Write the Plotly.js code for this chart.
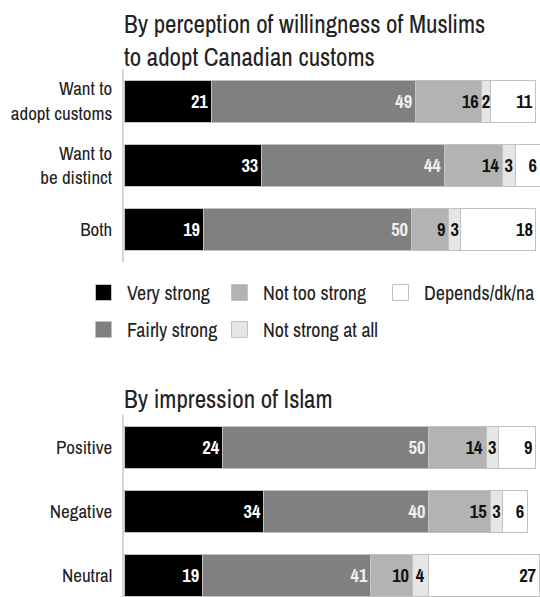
<!DOCTYPE html>
<html>
<head>
<meta charset="utf-8">
<script src="https://cdn.plot.ly/plotly-3.0.1.min.js"></script>
<style>
  html, body { margin: 0; padding: 0; background: #ffffff; }
  #chart { width: 540px; height: 597px; }
</style>
</head>
<body>
<div id="chart"></div>
<script>
// ---- Data ----
const seriesNames = ["Very strong", "Fairly strong", "Not too strong", "Not strong at all", "Depends/dk/na"];

const topTitle = "By perception of willingness of Muslims<br>to adopt Canadian customs";
const topCategories = ["Want to<br>adopt customs", "Want to<br>be distinct", "Both"];
const topVeryStrong = [21, 33, 19];
const topFairlyStrong = [49, 44, 50];
const topNotTooStrong = [16, 14, 9];
const topNotStrongAtAll = [2, 3, 3];
const topDepends = [11, 6, 18];

const bottomTitle = "By impression of Islam";
const bottomCategories = ["Positive", "Negative", "Neutral"];
const bottomVeryStrong = [24, 34, 19];
const bottomFairlyStrong = [50, 40, 41];
const bottomNotTooStrong = [14, 15, 10];
const bottomNotStrongAtAll = [3, 3, 4];
const bottomDepends = [9, 6, 27];

// ---- Styling ----
const FONT = "'Archivo Narrow', 'Roboto Condensed', 'Liberation Sans', sans-serif";
const colors = ["#000000", "#808080", "#b3b3b3", "#e6e6e6", "#ffffff"];
const textColors = ["#ffffff", "#f0f0f0", "#111111", "#111111", "#111111"];
const textAnchors = ["end", "end", "end", "middle", "end"];
const legendIds = ["legend", "legend", "legend2", "legend2", "legend3"];
const EDGE = "#c2c2c2";

const topSeries = [topVeryStrong, topFairlyStrong, topNotTooStrong, topNotStrongAtAll, topDepends];
const bottomSeries = [bottomVeryStrong, bottomFairlyStrong, bottomNotTooStrong, bottomNotStrongAtAll, bottomDepends];

const W = 540, H = 597;
const px = v => v / W;
const py = v => 1 - v / H;

function makeTrace(values, cats, i, xa, ya) {
  return {
    type: "bar",
    orientation: "h",
    name: seriesNames[i],
    x: values,
    y: cats,
    xaxis: xa,
    yaxis: ya,
    text: values.map(v => String(v)),
    textposition: "inside",
    insidetextanchor: textAnchors[i],
    textangle: 0,
    constraintext: "none",
    cliponaxis: false,
    textfont: { family: FONT, size: 18.5, color: textColors[i], weight: "bold" },
    marker: { color: colors[i], line: { color: EDGE, width: 1 } },
    legendgroup: "g" + i,
    showlegend: false,
    hoverinfo: "skip"
  };
}

// Legend keys (swatches only, no data drawn)
function makeKey(i) {
  return {
    type: "scatter",
    mode: "markers",
    name: seriesNames[i],
    x: [null],
    y: [null],
    xaxis: "x",
    yaxis: "y",
    marker: { symbol: "square", size: 16, color: colors[i], line: { color: EDGE, width: 1 } },
    legendgroup: "g" + i,
    legend: legendIds[i],
    showlegend: true,
    hoverinfo: "skip"
  };
}

const traces = [];
topSeries.forEach((vals, i) => traces.push(makeTrace(vals, topCategories, i, "x", "y")));
bottomSeries.forEach((vals, i) => traces.push(makeTrace(vals, bottomCategories, i, "x2", "y2")));
seriesNames.forEach((n, i) => traces.push(makeKey(i)));

const xDomain = [px(124), 1];
const legendCommon = {
  orientation: "v",
  traceorder: "grouped",
  tracegroupgap: 8,
  itemwidth: 37,
  yanchor: "top",
  xanchor: "left",
  font: { family: FONT, size: 20, color: "#222222", weight: 300 },
  bgcolor: "rgba(0,0,0,0)",
  borderwidth: 0
};

const yCommon = {
  type: "category",
  showline: true, linecolor: "#d6d6d6", linewidth: 2,
  showgrid: false, zeroline: false, ticks: "",
  ticklabelstandoff: 6,
  tickfont: { family: FONT, size: 19, color: "#222222", weight: 300 },
  automargin: false, fixedrange: true
};

const layout = {
  width: W,
  height: H,
  margin: { l: 0, r: 0, t: 0, b: 0, autoexpand: false },
  paper_bgcolor: "#ffffff",
  plot_bgcolor: "#ffffff",
  barmode: "stack",
  bargap: 0.344,
  font: { family: FONT, color: "#222222" },
  xaxis: { domain: xDomain, anchor: "y", range: [0, 100], visible: false, fixedrange: true },
  xaxis2: { domain: xDomain, anchor: "y2", range: [0, 101.1], visible: false, fixedrange: true },
  yaxis: Object.assign({}, yCommon, { domain: [py(262), py(69)], anchor: "x", range: [2.5, -0.5] }),
  yaxis2: Object.assign({}, yCommon, { domain: [0, py(415)], anchor: "x2", range: [2.34, -0.5] }),
  legend: Object.assign({}, legendCommon, { x: px(80), y: py(273) }),
  legend2: Object.assign({}, legendCommon, { x: px(216), y: py(273) }),
  legend3: Object.assign({}, legendCommon, { x: px(377), y: py(273) }),
  annotations: [
    {
      text: topTitle, xref: "paper", yref: "paper",
      x: px(122), y: py(5), xanchor: "left", yanchor: "top", align: "left",
      showarrow: false, font: { family: FONT, size: 25, color: "#222222", weight: 300 }
    },
    {
      text: bottomTitle, xref: "paper", yref: "paper",
      x: px(122), y: py(380), xanchor: "left", yanchor: "top", align: "left",
      showarrow: false, font: { family: FONT, size: 25, color: "#222222", weight: 300 }
    }
  ]
};

Plotly.newPlot("chart", traces, layout, { displayModeBar: false, staticPlot: true });
</script>
</body>
</html>
